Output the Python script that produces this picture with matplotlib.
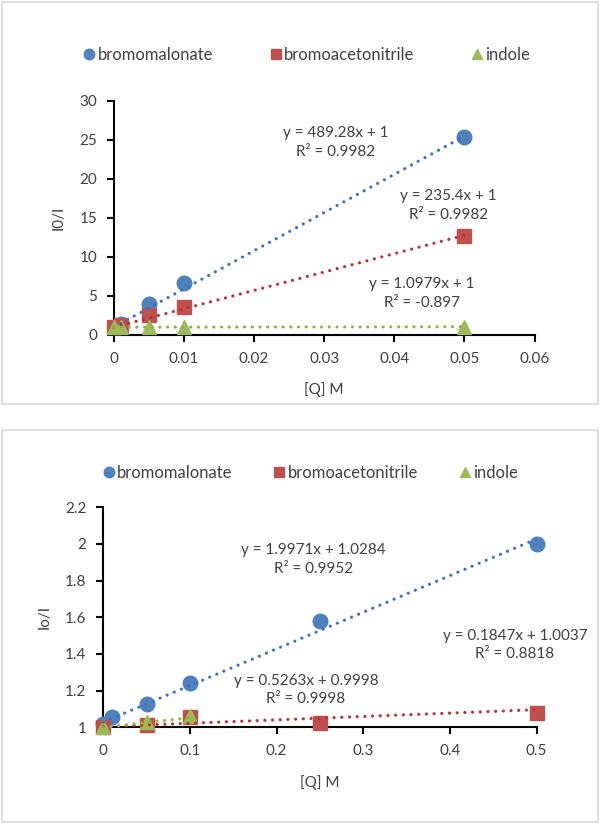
import matplotlib
matplotlib.use('Agg')
import matplotlib.pyplot as plt
from matplotlib.patches import Rectangle
from matplotlib.ticker import FuncFormatter
import numpy as np

plt.rcParams['font.family'] = ['Lato', 'DejaVu Sans']

series_names = ['bromomalonate', 'bromoacetonitrile', 'indole']
marker_colors = ['#4F81BD', '#C0504D', '#9BBB59']
line_colors = ['#3E70C0', '#C0302E', '#8CB43C']
marker_shapes = ['o', 's', '^']

# panel 1 (low concentration)
x1 = [[0.001, 0.005, 0.01, 0.05],
      [0, 0.001, 0.005, 0.01, 0.05],
      [0, 0.001, 0.005, 0.01, 0.05]]
y1 = [[1.4, 4.0, 6.6, 25.3],
      [1.05, 1.3, 2.5, 3.6, 12.7],
      [1.0, 1.0, 1.0, 1.05, 1.05]]
fit1 = [(489.28, 1), (235.4, 1), (1.0979, 1)]
labels1 = ['y = 489.28x + 1\nR² = 0.9982',
           'y = 235.4x + 1\nR² = 0.9982',
           'y = 1.0979x + 1\nR² = -0.897']
label_pos1 = [(0.0316, 24.65), (0.0477, 16.6), (0.0439, 5.3)]

# panel 2 (high concentration)
x2 = [[0, 0.01, 0.05, 0.1, 0.25, 0.5],
      [0, 0.05, 0.1, 0.25, 0.5],
      [0, 0.05, 0.1]]
y2 = [[1.02, 1.054, 1.127, 1.243, 1.58, 2.0],
      [1.0, 1.015, 1.058, 1.025, 1.08],
      [1.0, 1.03, 1.06]]
fit2 = [(1.9971, 1.0284), (0.1847, 1.0037), (0.5263, 0.9998)]
labels2 = ['y = 1.9971x + 1.0284\nR² = 0.9952',
           'y = 0.1847x + 1.0037\nR² = 0.8818',
           'y = 0.5263x + 0.9998\nR² = 0.9998']
label_pos2 = [(0.2425, 1.917), (0.475, 1.449), (0.234, 1.2035)]

W, H = 600, 824
fig = plt.figure(figsize=(W / 100, H / 100), dpi=100)

# light grey frames around each chart
for (x0, y0, x1p, y1p) in [(2, 2, 598, 404), (2, 430, 598, 822)]:
    fig.patches.append(Rectangle((x0 / W, 1 - y1p / H), (x1p - x0) / W, (y1p - y0) / H,
                                 transform=fig.transFigure, fill=False,
                                 edgecolor='#D9D9D9', linewidth=1.2))


def px_axes(l, t, r, b):
    return fig.add_axes([l / W, 1 - b / H, (r - l) / W, (b - t) / H])


def draw_panel(ax, xs, ys, fits, labels, label_pos, xlim, ylim, xstep, ystep, ylabel,
               legend_xy, colspace):
    handles = []
    for i in range(3):
        h, = ax.plot(xs[i], ys[i], linestyle='none', marker=marker_shapes[i],
                     markersize=10.5 if i != 1 else 9.5, color=marker_colors[i],
                     markeredgecolor=marker_colors[i], clip_on=False, zorder=3 + i)
        handles.append(h)
        xx = np.linspace(min(xs[i]), max(xs[i]), 50)
        m, c = fits[i]
        ax.plot(xx, m * xx + c, linestyle=(0, (0.01, 2.4)), linewidth=2.3,
                dash_capstyle='round', color=line_colors[i], clip_on=False, zorder=7)
        ax.text(label_pos[i][0], label_pos[i][1], labels[i], ha='center', va='center',
                fontsize=11, color='#404040', linespacing=1.45, clip_on=False, zorder=8)
    ax.set_xlim(*xlim)
    ax.set_ylim(*ylim)
    ax.set_xticks(np.arange(xlim[0], xlim[1] + xstep / 2, xstep))
    ax.set_yticks(np.arange(ylim[0], ylim[1] + ystep / 2, ystep))
    fmt = FuncFormatter(lambda v, p: '{:g}'.format(round(v, 4)))
    ax.xaxis.set_major_formatter(fmt)
    ax.yaxis.set_major_formatter(fmt)
    for s in ['top', 'right']:
        ax.spines[s].set_visible(False)
    for s in ['left', 'bottom']:
        ax.spines[s].set_linewidth(1.5)
        ax.spines[s].set_color('black')
    ax.tick_params(direction='out', length=5, width=1.5, labelsize=11,
                   labelcolor='#404040', pad=7)
    ax.set_xlabel('[Q] M', fontsize=11, color='#404040', labelpad=12)
    ax.set_ylabel(ylabel, fontsize=11, color='#404040', labelpad=10)
    fig.legend(handles, series_names, loc='center', ncol=3, frameon=False,
               bbox_to_anchor=legend_xy, fontsize=12, markerscale=0.72,
               handlelength=0.6, handletextpad=0.2, columnspacing=colspace,
               labelcolor='#404040')


ax1 = px_axes(113.7, 100.7, 534.6, 335)
draw_panel(ax1, x1, y1, fit1, labels1, label_pos1, (0, 0.06), (0, 30), 0.01, 5,
           'I0/I', (0.512, 1 - 55 / H), 3.45)

ax2 = px_axes(103.3, 507.3, 536.5, 727.3)
draw_panel(ax2, x2, y2, fit2, labels2, label_pos2, (0, 0.5), (1, 2.2), 0.1, 0.2,
           'Io/I', (0.518, 1 - 472.7 / H), 2.5)

fig.savefig('out.png', dpi=100, facecolor='white')
